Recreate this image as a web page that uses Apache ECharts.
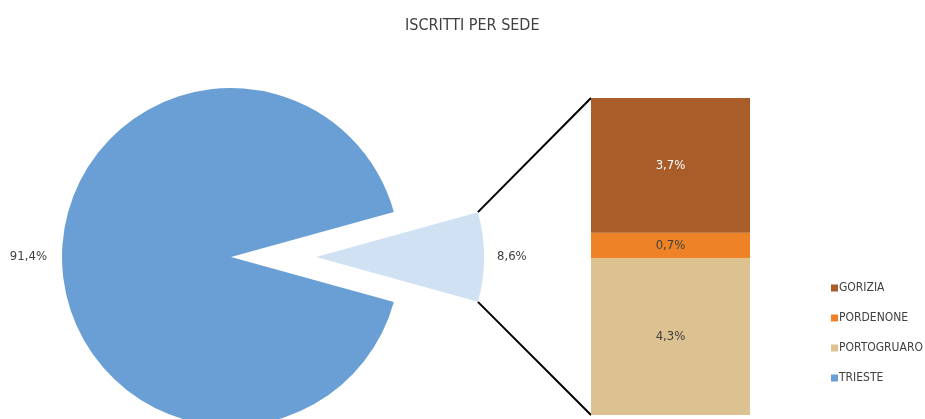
<!DOCTYPE html>
<html>
<head>
<meta charset="utf-8">
<script src="https://cdn.jsdelivr.net/npm/echarts@6/dist/echarts.min.js"></script>
<style>
  html, body { margin: 0; padding: 0; background: #fff; }
  #main { width: 925px; height: 419px; }
</style>
</head>
<body>
<div id="main"></div>
<script>
// dati
const sedi = ['GORIZIA', 'PORDENONE', 'PORTOGRUARO'];
const quoteSedi = [3.7, 0.7, 4.3];
const nomeTrieste = 'TRIESTE';
const quotaTrieste = 91.4;
const quotaAltre = 8.6;
const legenda = ['GORIZIA', 'PORDENONE', 'PORTOGRUARO', 'TRIESTE'];

const coloriSedi = ['#a95d28', '#ed8326', '#dcc191'];
const coloreTrieste = '#699fd4';
const coloreAltre = '#d0e1f3';
const font = '"DejaVu Sans Condensed", "Liberation Sans Narrow", sans-serif';
const testo = '#404040';

// layout
const cx = 231, cy = 257, r = 169;
const cx2 = 316, r2 = 168;
const barLeft = 591, barTop = 98, barW = 159, barH = 317;

const fmt = v => v.toFixed(1).replace('.', ',') + '%';
const half = quotaAltre / 100 * 180;

const chart = echarts.init(document.getElementById('main'));

const barSeries = [];
for (let i = sedi.length - 1; i >= 0; i--) {
  barSeries.push({
    name: sedi[i],
    type: 'bar',
    stack: 'tot',
    barWidth: '100%',
    data: [quoteSedi[i]],
    itemStyle: { color: coloriSedi[i] },
    label: {
      show: true,
      position: 'inside',
      formatter: p => fmt(p.value),
      color: i === 0 ? '#fff' : testo,
      fontFamily: font,
      fontSize: 13
    }
  });
}

// linee di collegamento calcolate dalla geometria
const a = half * Math.PI / 180;
const px = cx2 + r2 * Math.cos(a);
const pyTop = cy - r2 * Math.sin(a);
const pyBot = cy + r2 * Math.sin(a);

const pieLabel = {
  show: true,
  position: 'outside',
  overflow: 'none',
  formatter: p => fmt(p.value),
  fontFamily: font, fontSize: 13, color: testo
};

chart.setOption({
  animation: false,
  title: {
    text: 'ISCRITTI PER SEDE',
    left: 400,
    top: 13,
    textStyle: { fontFamily: font, fontSize: 16, fontWeight: 'normal', color: testo }
  },
  legend: {
    data: legenda,
    orient: 'vertical',
    left: 826,
    top: 277,
    icon: 'rect',
    itemWidth: 7,
    itemHeight: 7,
    itemGap: 18,
    textStyle: { fontFamily: font, fontSize: 12, color: testo, padding: [0, 0, 0, -4] }
  },
  grid: { left: barLeft, top: barTop, width: barW, height: barH },
  xAxis: { type: 'category', data: [''], show: false },
  yAxis: { type: 'value', min: 0, max: quoteSedi.reduce((s, v) => s + v, 0), show: false },
  graphic: [
    { type: 'line', shape: { x1: px, y1: pyTop, x2: barLeft, y2: barTop }, style: { stroke: '#000', lineWidth: 2 } },
    { type: 'line', shape: { x1: px, y1: pyBot, x2: barLeft, y2: barTop + barH }, style: { stroke: '#000', lineWidth: 2 } }
  ],
  series: [
    {
      type: 'pie',
      center: [cx, cy],
      radius: r,
      startAngle: half,
      clockwise: true,
      silent: true,
      data: [
        { name: 'altre', value: quotaAltre, itemStyle: { color: 'rgba(0,0,0,0)' }, label: { show: false } },
        { name: nomeTrieste, value: quotaTrieste, itemStyle: { color: coloreTrieste } }
      ],
      label: pieLabel,
      labelLine: { show: false, length: 10, length2: 0 }
    },
    {
      type: 'pie',
      center: [cx2, cy],
      radius: r2,
      startAngle: half,
      clockwise: true,
      silent: true,
      data: [
        { name: 'ALTRE SEDI', value: quotaAltre, itemStyle: { color: coloreAltre } },
        { name: 'resto', value: quotaTrieste, itemStyle: { color: 'rgba(0,0,0,0)' }, label: { show: false } }
      ],
      label: pieLabel,
      labelLine: { show: false, length: 8, length2: 0 }
    }
  ].concat(barSeries)
});
</script>
</body>
</html>
